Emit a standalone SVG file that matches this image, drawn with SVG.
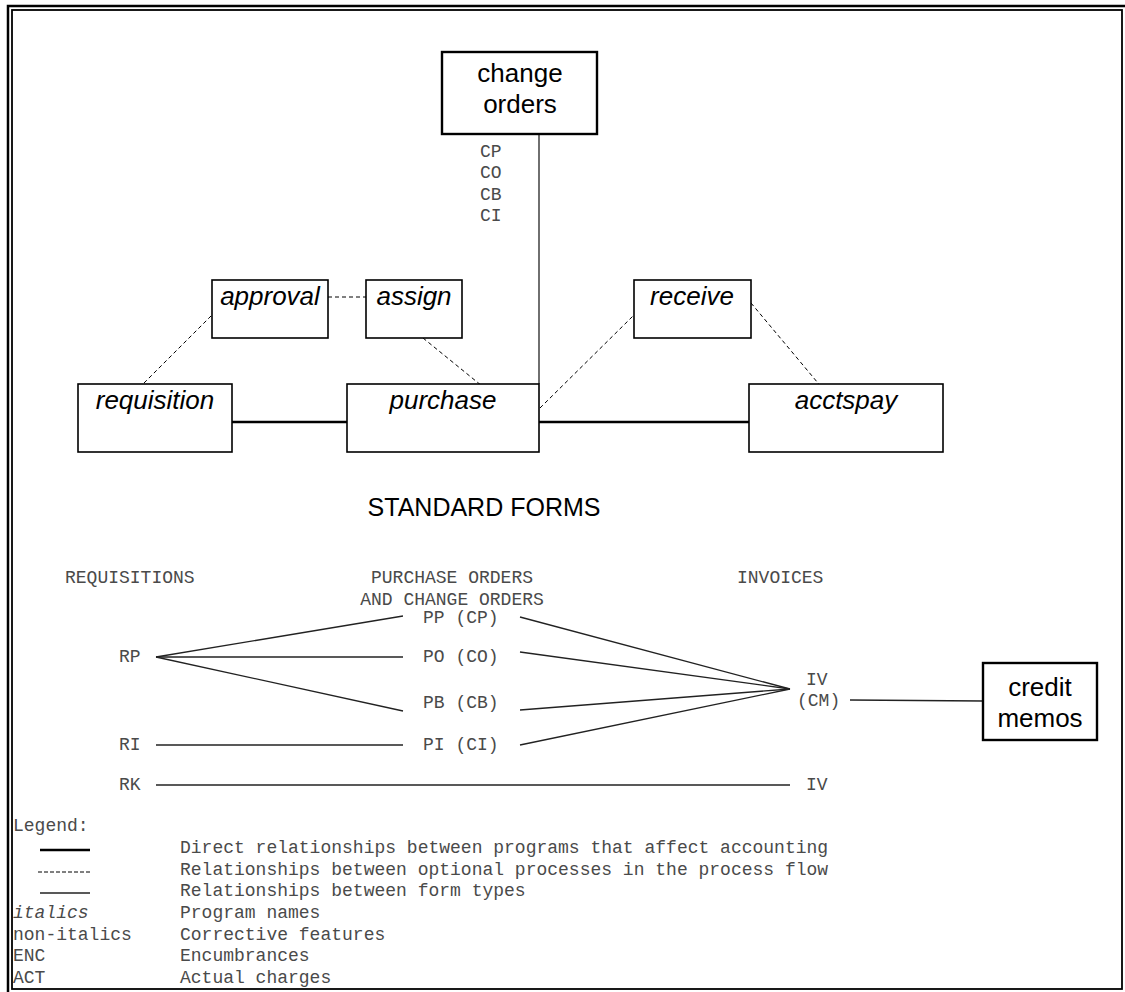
<svg xmlns="http://www.w3.org/2000/svg" width="1125" height="992" viewBox="0 0 1125 992">
  <style>
    .box { fill: #fff; stroke: #000; stroke-width: 1.6; }
    .boxb { fill: #fff; stroke: #000; stroke-width: 2.4; }
    .prog { font-family: "Liberation Sans", Arial, sans-serif; font-style: italic; font-size: 26px; fill: #000; text-anchor: middle; }
    .title { font-family: "Liberation Sans", Arial, sans-serif; font-size: 26px; fill: #000; text-anchor: middle; }
    .mono { font-family: "Liberation Mono", "Courier New", monospace; font-size: 18px; fill: #4a4a4a; }
    .thick { stroke: #000; stroke-width: 2.6; fill: none; }
    .dash { stroke: #000; stroke-width: 1; stroke-dasharray: 4 3; fill: none; }
    .thin { stroke: #222; stroke-width: 1.3; fill: none; }
  </style>
  <rect width="1125" height="992" fill="#fff"/>

  <!-- double frame -->
  <g id="frame" fill="none" stroke="#000">
    <path d="M8 992 V6 H1125" stroke-width="2.5"/>
    <rect x="12" y="10" width="1110" height="979" stroke-width="1.8"/>
  </g>

  <!-- connectors -->
  <g id="connectors">
    <line class="thin" x1="539" y1="132" x2="539" y2="384"/>
    <line class="thick" x1="232" y1="422" x2="347" y2="422"/>
    <line class="thick" x1="539" y1="422" x2="749" y2="422"/>
    <line class="dash" x1="328" y1="297" x2="366" y2="297"/>
    <line class="dash" x1="139" y1="388" x2="212" y2="315"/>
    <line class="dash" x1="423" y1="338" x2="482" y2="386"/>
    <line class="dash" x1="540" y1="408" x2="634" y2="315"/>
    <line class="dash" x1="751" y1="303" x2="828" y2="395"/>

    <line class="thin" x1="156" y1="657" x2="403" y2="616"/>
    <line class="thin" x1="156" y1="657" x2="403" y2="657"/>
    <line class="thin" x1="156" y1="657" x2="403" y2="711"/>
    <line class="thin" x1="156" y1="745" x2="403" y2="745"/>
    <line class="thin" x1="156" y1="785" x2="790" y2="785"/>
    <line class="thin" x1="520" y1="617" x2="790" y2="689"/>
    <line class="thin" x1="520" y1="652" x2="790" y2="689"/>
    <line class="thin" x1="520" y1="710" x2="790" y2="689"/>
    <line class="thin" x1="520" y1="745" x2="790" y2="689"/>
    <line class="thin" x1="850" y1="700" x2="983" y2="701"/>
  </g>

  <!-- program nodes -->
  <g id="change-orders">
    <rect class="boxb" x="442" y="52" width="155" height="82"/>
    <text class="title" x="520" y="82">change</text>
    <text class="title" x="520" y="113">orders</text>
  </g>
  <g id="approval">
    <rect class="box" x="212" y="280" width="116" height="58"/>
    <text class="prog" x="270" y="305">approval</text>
  </g>
  <g id="assign">
    <rect class="box" x="366" y="280" width="96" height="58"/>
    <text class="prog" x="414" y="305">assign</text>
  </g>
  <g id="receive">
    <rect class="box" x="634" y="280" width="117" height="58"/>
    <text class="prog" x="692" y="305">receive</text>
  </g>
  <g id="requisition">
    <rect class="box" x="78" y="384" width="154" height="68"/>
    <text class="prog" x="155" y="409">requisition</text>
  </g>
  <g id="purchase">
    <rect class="box" x="347" y="384" width="192" height="68"/>
    <text class="prog" x="443" y="409">purchase</text>
  </g>
  <g id="acctspay">
    <rect class="box" x="749" y="384" width="194" height="68"/>
    <text class="prog" x="846" y="409">acctspay</text>
  </g>
  <g id="credit-memos">
    <rect class="boxb" x="983" y="663" width="114" height="77"/>
    <text class="title" x="1040" y="696">credit</text>
    <text class="title" x="1040" y="727">memos</text>
  </g>

  <!-- change order form codes -->
  <g id="change-codes" class="mono">
    <text x="480" y="157">CP</text>
    <text x="480" y="178">CO</text>
    <text x="480" y="200">CB</text>
    <text x="480" y="221">CI</text>
  </g>

  <!-- standard forms -->
  <text class="title" x="484" y="516" style="font-size:25px">STANDARD FORMS</text>
  <g id="form-headers" class="mono">
    <text x="65" y="583">REQUISITIONS</text>
    <text x="452" y="583" text-anchor="middle">PURCHASE ORDERS</text>
    <text x="452" y="605" text-anchor="middle">AND CHANGE ORDERS</text>
    <text x="737" y="583">INVOICES</text>
  </g>
  <g id="form-RP" class="mono"><text x="119" y="662">RP</text></g>
  <g id="form-RI" class="mono"><text x="119" y="750">RI</text></g>
  <g id="form-RK" class="mono"><text x="119" y="790">RK</text></g>
  <g id="form-PP" class="mono"><text x="423" y="623">PP (CP)</text></g>
  <g id="form-PO" class="mono"><text x="423" y="662">PO (CO)</text></g>
  <g id="form-PB" class="mono"><text x="423" y="708">PB (CB)</text></g>
  <g id="form-PI" class="mono"><text x="423" y="750">PI (CI)</text></g>
  <g id="form-IV" class="mono">
    <text x="806" y="685">IV</text>
    <text x="797" y="706">(CM)</text>
  </g>
  <g id="form-IV2" class="mono"><text x="806" y="790">IV</text></g>

  <!-- legend -->
  <g id="legend" class="mono">
    <text x="13" y="831">Legend:</text>
    <line class="thick" x1="40" y1="850" x2="90" y2="850"/>
    <line x1="38" y1="872" x2="90" y2="872" stroke="#000" stroke-width="1" stroke-dasharray="4 2"/>
    <line class="thin" x1="40" y1="893" x2="90" y2="893"/>
    <text x="180" y="853">Direct relationships between programs that affect accounting</text>
    <text x="180" y="875">Relationships between optional processes in the process flow</text>
    <text x="180" y="896">Relationships between form types</text>
    <text x="13" y="918" font-style="italic">italics</text>
    <text x="180" y="918">Program names</text>
    <text x="13" y="940">non-italics</text>
    <text x="180" y="940">Corrective features</text>
    <text x="13" y="961">ENC</text>
    <text x="180" y="961">Encumbrances</text>
    <text x="13" y="983">ACT</text>
    <text x="180" y="983">Actual charges</text>
  </g>
</svg>
